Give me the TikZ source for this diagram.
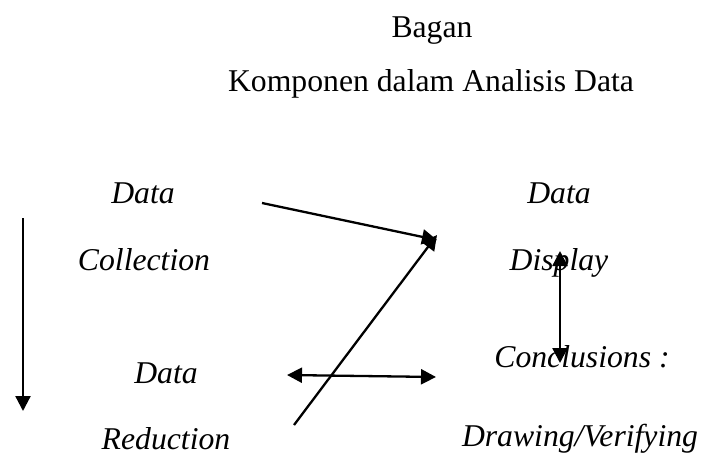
\documentclass[tikz,border=0pt]{standalone}
\usepackage{fontspec}
\setmainfont{Liberation Serif}
\usetikzlibrary{arrows.meta}
\begin{document}
\begin{tikzpicture}[x=1pt,y=-1pt,
  lbl/.style={anchor=base,inner sep=0pt,font=\fontsize{31.7}{36}\selectfont},
  ilbl/.style={lbl,font=\fontsize{31.7}{36}\selectfont\itshape},
  tip/.style={Triangle[length=15pt,width=15pt]},
  arr/.style={line width=2.3pt,-{Triangle[length=15pt,width=15pt]}},
  darr/.style={line width=2.3pt,{Triangle[length=15pt,width=15pt]}-{Triangle[length=15pt,width=15pt]}}]
\useasboundingbox (0,0) rectangle (705,455);
\node[lbl] (t1) at (432,37) {Bagan};
\node[lbl] (t2) at (431,91) {Komponen dalam Analisis Data};
\node[ilbl] (dc1) at (143,203) {Data};
\node[ilbl] (dc2) at (144,270) {Collection};
\node[ilbl] (dd1) at (559,203) {Data};
\node[ilbl] (dd2) at (559,270) {Display};
\node[ilbl] (dr1) at (166,383) {Data};
\node[ilbl] (dr2) at (166,449) {Reduction};
\node[ilbl] (cv1) at (582,367) {Conclusions :};
\node[ilbl] (cv2) at (580,446) {Drawing/Verifying};
\coordinate (a1) at (262,203);
\coordinate (a2) at (437,240);
\coordinate (b1) at (294,425);
\coordinate (b2) at (437,235);
\coordinate (h1) at (287,375);
\coordinate (h2) at (436,377);
\coordinate (v1) at (560,251);
\coordinate (v2) at (560,363);
\coordinate (l1) at (23,218);
\coordinate (l2) at (23,411);
\draw[arr] (a1) -- (a2);
\draw[arr] (b1) -- (b2);
\draw[darr] (h1) -- (h2);
\draw[darr] (v1) -- (v2);
\draw[arr] (l1) -- (l2);
\end{tikzpicture}
\end{document}
